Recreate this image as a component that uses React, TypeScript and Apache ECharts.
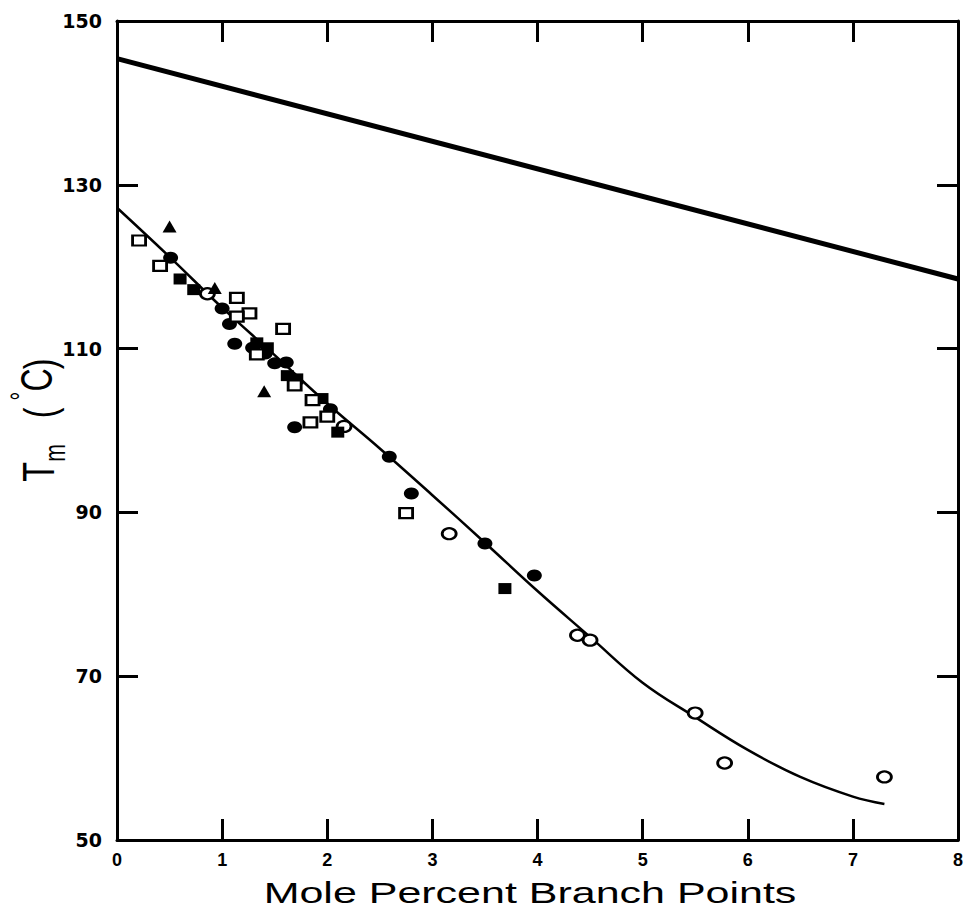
import React, { useEffect, useRef } from 'react';
import * as echarts from 'echarts';

// Axis ticks
const xTickValues = [0, 1, 2, 3, 4, 5, 6, 7, 8];
const yTickValues = [50, 70, 90, 110, 130, 150];

// Data series [mole % branch points, Tm °C]
const filledCircles = [
  [0.51, 121.1], [1.0, 114.9], [1.07, 113.0], [1.12, 110.6], [1.29, 110.1],
  [1.41, 109.4], [1.5, 108.2], [1.61, 108.3], [2.03, 102.6], [1.69, 100.4],
  [2.59, 96.8], [2.8, 92.3], [3.5, 86.2], [3.97, 82.3],
];
const openCircles = [
  [0.86, 116.7], [2.16, 100.5], [3.16, 87.4], [4.38, 75.0], [4.5, 74.4],
  [5.5, 65.5], [5.78, 59.4], [7.3, 57.7],
];
const filledSquares = [
  [0.6, 118.5], [0.73, 117.2], [1.33, 110.7], [1.43, 110.1], [1.62, 106.7],
  [1.71, 106.3], [1.95, 103.9], [2.1, 99.8], [3.69, 80.7],
];
const openSquares = [
  [0.21, 123.2], [0.41, 120.1], [1.14, 116.2], [1.26, 114.3], [1.14, 113.9],
  [1.58, 112.4], [1.33, 109.3], [1.69, 105.5], [1.86, 103.7], [2.0, 101.7],
  [1.84, 101.0], [2.75, 89.9],
];
const filledTriangles = [
  [0.5, 124.9], [0.93, 117.4], [1.4, 104.8],
];

// Upper straight line and fitted curve
const upperLine = [[0, 145.4], [8, 118.5]];
const fitCurve = [
  [0, 127.2], [0.5, 121.2], [1, 115.0], [1.5, 109.2], [2, 103.3], [2.5, 97.8],
  [3, 92.1], [3.5, 86.3], [4, 80.4], [4.5, 74.8], [5, 69.2], [5.5, 65.0],
  [6, 61.0], [6.5, 57.7], [7, 55.3], [7.3, 54.4],
];

const BLACK = '#000000';

export default function App() {
  const ref = useRef<HTMLDivElement>(null);

  useEffect(() => {
    if (!ref.current) return;
    const chart = echarts.init(ref.current, null, { renderer: 'svg' });

    const axisLine = { show: true, onZero: false, lineStyle: { color: BLACK, width: 3 } };
    const axisTick = { show: true, inside: true, length: 21, lineStyle: { color: BLACK, width: 3 } };

    const titleText = (text: string, x: number, y: number, size: number, rotate: boolean) => ({
      type: 'text',
      x,
      y,
      rotation: rotate ? Math.PI / 2 : 0,
      scaleX: rotate ? 0.73 : 1,
      scaleY: rotate ? 1 : 0.68,
      silent: true,
      style: {
        text,
        fill: BLACK,
        fontSize: size,
        fontFamily: '"Liberation Sans", Arial, sans-serif',
        textAlign: 'center',
        textVerticalAlign: 'middle',
        align: 'center',
        verticalAlign: 'middle',
      },
    });

    const option: any = {
      animation: false,
      backgroundColor: '#ffffff',
      grid: { left: 117, right: 13, top: 21, bottom: 71, containLabel: false },
      xAxis: [
        {
          type: 'value', min: xTickValues[0], max: xTickValues[xTickValues.length - 1], interval: 1,
          position: 'bottom', axisLine, axisTick, splitLine: { show: false },
          axisLabel: {
            margin: 11, color: BLACK, fontSize: 18, fontWeight: 'bold',
            fontFamily: '"Liberation Sans", Arial, sans-serif',
          },
        },
        {
          type: 'value', min: xTickValues[0], max: xTickValues[xTickValues.length - 1], interval: 1,
          position: 'top', axisLine, axisTick, splitLine: { show: false },
          axisLabel: { show: false },
        },
      ],
      yAxis: [
        {
          type: 'value', min: yTickValues[0], max: yTickValues[yTickValues.length - 1], interval: 20,
          position: 'left', axisLine, axisTick, splitLine: { show: false },
          axisLabel: {
            margin: 15, color: BLACK, fontSize: 19, fontWeight: 'bold',
            fontFamily: '"DejaVu Sans", sans-serif',
          },
        },
        {
          type: 'value', min: yTickValues[0], max: yTickValues[yTickValues.length - 1], interval: 20,
          position: 'right', axisLine, axisTick, splitLine: { show: false },
          axisLabel: { show: false },
        },
      ],
      series: [
        {
          type: 'line', data: upperLine, showSymbol: false, symbol: 'none',
          lineStyle: { color: BLACK, width: 5 }, z: 2,
        },
        {
          type: 'line', data: fitCurve, showSymbol: false, symbol: 'none', smooth: 0.4,
          lineStyle: { color: BLACK, width: 2.5 }, z: 2,
        },
        {
          type: 'scatter', data: filledCircles, symbol: 'circle', symbolSize: [15, 12],
          itemStyle: { color: BLACK, opacity: 1 }, z: 5,
        },
        {
          type: 'scatter', data: openCircles, symbol: 'circle', symbolSize: [14, 11],
          itemStyle: { color: '#ffffff', borderColor: BLACK, borderWidth: 2.5, opacity: 1 }, z: 5,
        },
        {
          type: 'scatter', data: filledSquares, symbol: 'rect', symbolSize: [13, 11],
          itemStyle: { color: BLACK, opacity: 1 }, z: 5,
        },
        {
          type: 'scatter', data: openSquares, symbol: 'rect', symbolSize: [13, 10],
          itemStyle: { color: '#ffffff', borderColor: BLACK, borderWidth: 2.5, opacity: 1 }, z: 5,
        },
        {
          type: 'scatter', data: filledTriangles, symbol: 'triangle', symbolSize: [14, 12],
          itemStyle: { color: BLACK, opacity: 1 }, z: 5,
        },
      ],
      graphic: [
        titleText('Mole Percent Branch Points', 530, 893, 43, false),
        titleText('T', 39, 472, 44, true),
        titleText('m', 55, 453, 29, true),
        titleText('(', 40, 413, 44, true),
        titleText('°', 21, 396, 30, true),
        titleText('C', 37, 380, 44, true),
        titleText(')', 40, 364, 44, true),
      ],
    };

    chart.setOption(option);
    return () => chart.dispose();
  }, []);

  return (
    <div
      ref={ref}
      style={{ position: 'fixed', left: 0, top: 0, width: 971, height: 911, background: '#fff' }}
    />
  );
}
